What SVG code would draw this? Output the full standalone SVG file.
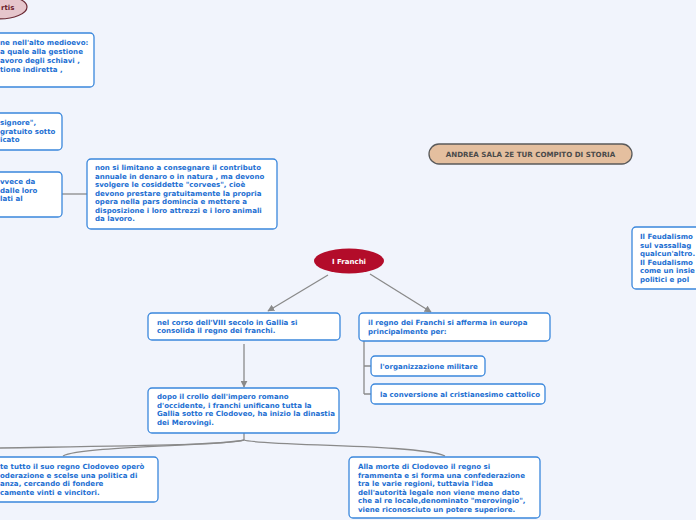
<svg xmlns="http://www.w3.org/2000/svg" width="696" height="520" viewBox="0 0 696 520">
<defs>
<style>
.bg{fill:#f1f4fc}
.box{fill:#fff;stroke:#3a87dc;stroke-width:1.3}
.t{font-family:"DejaVu Sans",Verdana,sans-serif;font-weight:bold;font-size:7.05px;fill:#1d6fd2}
.c{fill:none;stroke:#8a8a8a;stroke-width:1.3}
</style>
<marker id="ah" viewBox="0 0 10 10" refX="9" refY="5" markerWidth="7" markerHeight="7" markerUnits="userSpaceOnUse" orient="auto">
<path d="M0,0 L10,5 L0,10 z" fill="#8a8a8a"/>
</marker>
</defs>
<rect class="bg" x="0" y="0" width="696" height="520"/>

<g id="connectors">
<line class="c" x1="62" y1="194" x2="87" y2="194"/>
<line class="c" x1="328" y1="275" x2="268" y2="311" marker-end="url(#ah)"/>
<line class="c" x1="370" y1="274" x2="431" y2="312" marker-end="url(#ah)"/>
<line class="c" x1="244" y1="344" x2="244" y2="387" marker-end="url(#ah)"/>
<path class="c" d="M364,341 V394 M364,366 H371 M364,394 H371"/>
<path class="c" d="M244,433 V440"/>
<path class="c" d="M244,440 C230,445 120,446 0,448"/>
<path class="c" d="M244,440 C220,446 80,446 63,456"/>
<path class="c" d="M244,440 C260,446 420,444 445,456"/>
</g>

<g id="node-partis">
<ellipse cx="-2" cy="7" rx="29" ry="12" fill="#e6c6cc" stroke="#6b2a35" stroke-width="1.2"/>
<text x="1" y="10" font-family="DejaVu Sans,sans-serif" font-weight="bold" font-size="7px" fill="#6b1a2a">rtis</text>
</g>

<g id="node-alto-medioevo">
<rect class="box" x="-10" y="33" width="104" height="54" rx="4"/>
<text class="t"><tspan x="0" y="45">ne nell'alto medioevo:</tspan><tspan x="0" y="54">a quale alla gestione</tspan><tspan x="0" y="63">avoro degli schiavi ,</tspan><tspan x="0" y="72">tione indiretta ,</tspan></text>
</g>

<g id="node-signore">
<rect class="box" x="-10" y="113" width="72" height="37" rx="4"/>
<text class="t"><tspan x="0" y="125">signore",</tspan><tspan x="0" y="133.5">gratuito sotto</tspan><tspan x="0" y="142">icato</tspan></text>
</g>

<g id="node-invece">
<rect class="box" x="-10" y="172" width="72" height="45" rx="4"/>
<text class="t"><tspan x="0" y="184">vvece da</tspan><tspan x="0" y="192.5">dalle loro</tspan><tspan x="0" y="201">lati al</tspan></text>
</g>

<g id="node-corvees">
<rect class="box" x="87" y="159" width="190" height="70" rx="4"/>
<text class="t"><tspan x="95" y="170">non si limitano a consegnare il contributo</tspan><tspan x="95" y="178.5">annuale in denaro o in natura , ma devono</tspan><tspan x="95" y="187">svolgere le cosiddette "corvees", cioè</tspan><tspan x="95" y="195.5">devono prestare gratuitamente la propria</tspan><tspan x="95" y="204">opera nella pars domincia e mettere a</tspan><tspan x="95" y="212.5">disposizione i loro attrezzi e i loro animali</tspan><tspan x="95" y="221">da lavoro.</tspan></text>
</g>

<g id="node-title">
<rect x="429" y="144" width="203" height="20" rx="10" fill="#e4bf9f" stroke="#5a5a5a" stroke-width="1.3"/>
<text x="530.5" y="157" text-anchor="middle" font-family="DejaVu Sans,sans-serif" font-weight="bold" font-size="7.1px" fill="#4a4a4a">ANDREA SALA 2E TUR COMPITO DI STORIA</text>
</g>

<g id="node-feudalismo">
<rect class="box" x="632" y="227" width="80" height="62" rx="4"/>
<text class="t"><tspan x="640" y="239">Il Feudalismo</tspan><tspan x="640" y="247.5">sul vassallag</tspan><tspan x="640" y="256">qualcun'altro.</tspan><tspan x="640" y="264.5">Il Feudalismo</tspan><tspan x="640" y="273">come un insie</tspan><tspan x="640" y="281.5">politici e pol</tspan></text>
</g>

<g id="node-franchi">
<ellipse cx="349" cy="261" rx="35" ry="12.5" fill="#b30c2a"/>
<text x="349" y="264" text-anchor="middle" font-family="DejaVu Sans,sans-serif" font-weight="bold" font-size="7px" fill="#ffffff">I Franchi</text>
</g>

<g id="node-viii-secolo">
<rect class="box" x="148" y="313" width="192" height="27" rx="4"/>
<text class="t"><tspan x="157" y="324.5">nel corso dell'VIII secolo in Gallia si</tspan><tspan x="157" y="333">consolida il regno dei franchi.</tspan></text>
</g>

<g id="node-regno-afferma">
<rect class="box" x="359" y="313" width="191" height="28" rx="4"/>
<text class="t"><tspan x="368" y="325">il regno dei Franchi si afferma in europa</tspan><tspan x="368" y="333.5">principalmente per:</tspan></text>
</g>

<g id="node-militare">
<rect class="box" x="371" y="356" width="114" height="20" rx="4"/>
<text class="t" x="380" y="368.5">l'organizzazione militare</text>
</g>

<g id="node-cristianesimo">
<rect class="box" x="371" y="384" width="174" height="20" rx="4"/>
<text class="t" x="380" y="396.5">la conversione al cristianesimo cattolico</text>
</g>

<g id="node-crollo">
<rect class="box" x="148" y="388" width="191" height="45" rx="4"/>
<text class="t"><tspan x="157" y="399">dopo il crollo dell'impero romano</tspan><tspan x="157" y="407.5">d'occidente, i franchi unificano tutta la</tspan><tspan x="157" y="416">Gallia sotto re Clodoveo, ha inizio la dinastia</tspan><tspan x="157" y="424.5">dei Merovingi.</tspan></text>
</g>

<g id="node-clodoveo-moderazione">
<rect class="box" x="-10" y="457" width="168" height="45" rx="4"/>
<text class="t"><tspan x="0" y="469">te tutto il suo regno Clodoveo operò</tspan><tspan x="0" y="477.5">oderazione e scelse una politica di</tspan><tspan x="0" y="486">anza, cercando di fondere</tspan><tspan x="0" y="494.5">camente vinti e vincitori.</tspan></text>
</g>

<g id="node-morte-clodoveo">
<rect class="box" x="349" y="457" width="191" height="61" rx="4"/>
<text class="t"><tspan x="358" y="469">Alla morte di Clodoveo il regno si</tspan><tspan x="358" y="477.5">frammenta e si forma una confederazione</tspan><tspan x="358" y="486">tra le varie regioni, tuttavia l'idea</tspan><tspan x="358" y="494.5">dell'autorità legale non viene meno dato</tspan><tspan x="358" y="503">che al re locale,denominato "merovingio",</tspan><tspan x="358" y="511.5">viene riconosciuto un potere superiore.</tspan></text>
</g>
</svg>
